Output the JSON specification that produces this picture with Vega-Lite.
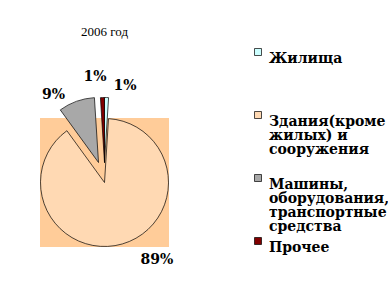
{
  "$schema": "https://vega.github.io/schema/vega-lite/v6.json",
  "width": 129,
  "height": 129,
  "autosize": {"type": "none"},
  "padding": {"left": 40, "top": 118, "right": 219, "bottom": 39},
  "background": "white",
  "view": {"fill": "#FFCC99", "stroke": null},
  "title": {"text": "2006 год", "font": "Liberation Serif", "fontSize": 13, "fontWeight": "normal", "color": "black", "offset": 6},
  "data": {"values": [
    {"cat": "Жилища", "v": 1, "o": 1},
    {"cat": "Здания(кроме жилых) и сооружения", "v": 89, "o": 2},
    {"cat": "Машины, оборудования, транспортные средства", "v": 9, "o": 3},
    {"cat": "Прочее", "v": 1, "o": 4}
  ]},
  "transform": [
    {"stack": "v", "groupby": [], "sort": [{"field": "o"}], "as": ["t0", "t1"]},
    {"calculate": "(datum.t0 + datum.t1) / 2", "as": "tm"},
    {"calculate": "format(datum.v, 'd') + '%'", "as": "lab"}
  ],
  "layer": [
    {
      "transform": [{"filter": "datum.o == 2"}],
      "mark": {"type": "arc", "stroke": "black", "strokeWidth": 0.7, "radius": 64},
      "encoding": {
        "theta": {"field": "t0", "type": "quantitative", "scale": {"domain": [0, 100]}},
        "theta2": {"field": "t1"},
        "color": {
          "field": "cat", "type": "nominal",
          "sort": {"field": "o"},
          "scale": {
            "domain": ["Жилища", "Здания(кроме жилых) и сооружения", "Машины, оборудования, транспортные средства", "Прочее"],
            "range": ["#CCFFFF", "#FFD9B3", "#A8A8A8", "#800000"]
          },
          "legend": {
            "orient": "none", "legendX": 211, "legendY": -73,
            "title": null, "padding": 0,
            "symbolType": "square", "symbolSize": 49, "symbolStrokeColor": "black", "symbolStrokeWidth": 0.7,
            "labelFont": "DejaVu Serif", "labelFontSize": 14, "labelFontWeight": "bold", "labelColor": "black",
            "labelLimit": 200, "labelOffset": 4, "rowPadding": 0, "labelBaseline": "top",
            "encode": {"labels": {"update": {"lineHeight": {"value": 14}}}},
            "labelExpr": "datum.label == 'Здания(кроме жилых) и сооружения' ? ['Здания(кроме', 'жилых) и', 'сооружения', ''] : datum.label == 'Машины, оборудования, транспортные средства' ? ['Машины,', 'оборудования,', 'транспортные', 'средства'] : [datum.label, '', '', '']"
          }
        }
      }
    },
    {
      "transform": [{"filter": "datum.o == 3"}],
      "mark": {"type": "arc", "stroke": "black", "strokeWidth": 0.7, "radius": 65, "xOffset": -6, "yOffset": -20},
      "encoding": {
        "theta": {"field": "t0", "type": "quantitative"},
        "theta2": {"field": "t1"},
        "color": {"field": "cat", "type": "nominal"}
      }
    },
    {
      "transform": [{"filter": "datum.o == 1 || datum.o == 4"}],
      "mark": {"type": "arc", "stroke": "black", "strokeWidth": 0.7, "radius": 65, "yOffset": -20},
      "encoding": {
        "theta": {"field": "t0", "type": "quantitative"},
        "theta2": {"field": "t1"},
        "color": {"field": "cat", "type": "nominal"}
      }
    },
    {
      "transform": [{"filter": "datum.o == 2"}],
      "mark": {"type": "text", "radius": 80, "dx": 30, "dy": 1, "font": "DejaVu Serif", "fontSize": 14, "fontWeight": "bold", "color": "black"},
      "encoding": {"theta": {"field": "tm", "type": "quantitative"}, "text": {"field": "lab"}}
    },
    {
      "transform": [{"filter": "datum.o == 3"}],
      "mark": {"type": "text", "radius": 80, "dx": -24, "dy": -12, "font": "DejaVu Serif", "fontSize": 14, "fontWeight": "bold", "color": "black"},
      "encoding": {"theta": {"field": "tm", "type": "quantitative"}, "text": {"field": "lab"}}
    },
    {
      "transform": [{"filter": "datum.o == 4"}],
      "mark": {"type": "text", "radius": 80, "dx": -7, "dy": -26, "font": "DejaVu Serif", "fontSize": 14, "fontWeight": "bold", "color": "black"},
      "encoding": {"theta": {"field": "tm", "type": "quantitative"}, "text": {"field": "lab"}}
    },
    {
      "transform": [{"filter": "datum.o == 1"}],
      "mark": {"type": "text", "radius": 80, "dx": 18, "dy": -17, "font": "DejaVu Serif", "fontSize": 14, "fontWeight": "bold", "color": "black"},
      "encoding": {"theta": {"field": "tm", "type": "quantitative"}, "text": {"field": "lab"}}
    }
  ]
}
